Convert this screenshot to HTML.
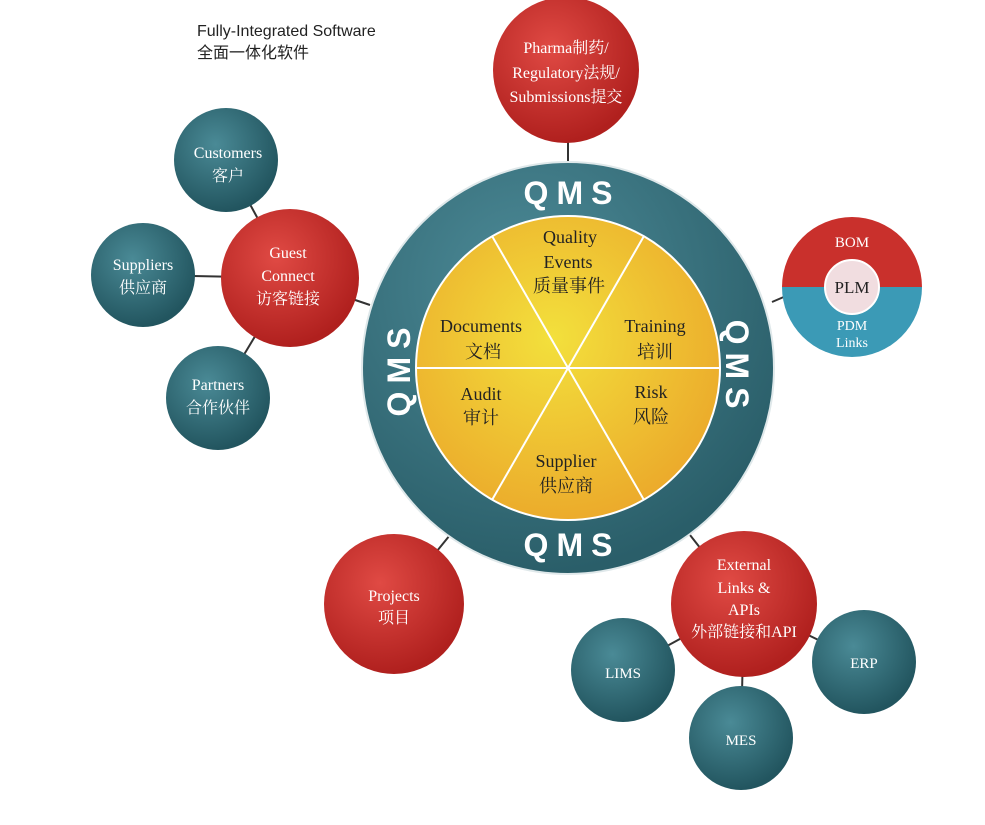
<!DOCTYPE html>
<html><head><meta charset="utf-8"><style>
body{margin:0;background:#fff;width:985px;height:820px;overflow:hidden}
svg text{font-family:"Liberation Serif","Noto Serif CJK SC",serif}
svg text.sans{font-family:"Liberation Sans","Noto Sans CJK SC",sans-serif}
</style></head><body>
<svg width="985" height="820" viewBox="0 0 985 820">
<defs>
<radialGradient id="red" cx="40%" cy="35%" r="65%"><stop offset="0" stop-color="#e04a44"/><stop offset="1" stop-color="#b0201e"/></radialGradient>
<radialGradient id="teal" cx="40%" cy="35%" r="65%"><stop offset="0" stop-color="#4a8a96"/><stop offset="1" stop-color="#22555f"/></radialGradient>
<radialGradient id="ring" cx="40%" cy="30%" r="70%"><stop offset="0" stop-color="#4d8b98"/><stop offset="1" stop-color="#2a5e69"/></radialGradient>
<radialGradient id="yel" cx="45%" cy="40%" r="65%"><stop offset="0" stop-color="#f3e03c"/><stop offset="1" stop-color="#eba72a"/></radialGradient>
<clipPath id="top"><rect x="780" y="200" width="160" height="87"/></clipPath>
<clipPath id="bot"><rect x="780" y="287" width="160" height="90"/></clipPath>
</defs>
<g stroke="#333" stroke-width="2">
<line x1="568" y1="140" x2="568" y2="165"/>
<line x1="226" y1="160" x2="290" y2="278"/>
<line x1="143" y1="275" x2="290" y2="278"/>
<line x1="218" y1="398" x2="290" y2="278"/>
<line x1="290" y1="278" x2="370" y2="305"/>
<line x1="394" y1="604" x2="450" y2="535"/>
<line x1="744" y1="604" x2="690" y2="535"/>
<line x1="744" y1="604" x2="623" y2="670"/>
<line x1="744" y1="604" x2="741" y2="738"/>
<line x1="744" y1="604" x2="864" y2="662"/>
<line x1="772" y1="302" x2="800" y2="290"/>
</g>
<text class="sans" x="197" y="36" font-size="16" fill="#222">Fully-Integrated Software</text>
<text class="sans" x="197" y="58" font-size="16" fill="#222">全面一体化软件</text>
<circle cx="568" cy="368" r="206" fill="url(#ring)" stroke="#dfe8ea" stroke-width="2"/>
<circle cx="568" cy="368" r="152" fill="url(#yel)" stroke="#fff" stroke-width="2"/>
<g stroke="#fff" stroke-width="2">
<line x1="416" y1="368" x2="720" y2="368"/>
<line x1="492" y1="236" x2="644" y2="500"/>
<line x1="644" y1="236" x2="492" y2="500"/>
</g>
<g font-weight="bold" font-size="32" fill="#fff" text-anchor="middle" letter-spacing="8">
<text class="sans" x="572" y="204">QMS</text>
<text class="sans" x="572" y="556">QMS</text>
<text class="sans" transform="translate(398,368) rotate(-90)" y="12">QMS</text>
<text class="sans" transform="translate(738,368) rotate(90)" y="12">QMS</text>
</g>
<g font-size="18" fill="#222" text-anchor="middle">
<text x="570" y="243">Quality</text><text x="568" y="268">Events</text><text x="569" y="292">质量事件</text>
<text x="481" y="332">Documents</text><text x="483" y="358">文档</text>
<text x="655" y="332">Training</text><text x="655" y="358">培训</text>
<text x="481" y="400">Audit</text><text x="481" y="424">审计</text>
<text x="651" y="398">Risk</text><text x="651" y="423">风险</text>
<text x="566" y="467">Supplier</text><text x="566" y="492">供应商</text>
</g>
<g fill="#fff" font-size="16" text-anchor="middle">
<circle cx="566" cy="70" r="73" fill="url(#red)"/>
<text x="566" y="53">Pharma制药/</text><text x="566" y="78">Regulatory法规/</text><text x="566" y="102">Submissions提交</text>
<circle cx="226" cy="160" r="52" fill="url(#teal)"/>
<text x="228" y="158">Customers</text><text x="228" y="181">客户</text>
<circle cx="290" cy="278" r="69" fill="url(#red)"/>
<text x="288" y="258">Guest</text><text x="288" y="281">Connect</text><text x="288" y="304">访客链接</text>
<circle cx="143" cy="275" r="52" fill="url(#teal)"/>
<text x="143" y="270">Suppliers</text><text x="143" y="293">供应商</text>
<circle cx="218" cy="398" r="52" fill="url(#teal)"/>
<text x="218" y="390">Partners</text><text x="218" y="413">合作伙伴</text>
<circle cx="394" cy="604" r="70" fill="url(#red)"/>
<text x="394" y="601">Projects</text><text x="394" y="623">项目</text>
<circle cx="744" cy="604" r="73" fill="url(#red)"/>
<text x="744" y="570">External</text><text x="744" y="593">Links &amp;</text><text x="744" y="615">APIs</text><text x="744" y="637">外部链接和API</text>
<circle cx="623" cy="670" r="52" fill="url(#teal)"/><text x="623" y="678" font-size="15">LIMS</text>
<circle cx="741" cy="738" r="52" fill="url(#teal)"/><text x="741" y="745" font-size="15">MES</text>
<circle cx="864" cy="662" r="52" fill="url(#teal)"/><text x="864" y="668" font-size="15">ERP</text>
<circle cx="852" cy="287" r="70" fill="#c9302c" clip-path="url(#top)"/>
<circle cx="852" cy="287" r="70" fill="#3b9ab6" clip-path="url(#bot)"/>
<text x="852" y="247" font-size="15">BOM</text>
<text x="852" y="330" font-size="14">PDM</text><text x="852" y="347" font-size="14">Links</text>
<circle cx="852" cy="287" r="27" fill="#f1dde0" stroke="#fff" stroke-width="2"/>
<text x="852" y="293" font-size="17" fill="#222">PLM</text>
</g>
</svg>
</body></html>
